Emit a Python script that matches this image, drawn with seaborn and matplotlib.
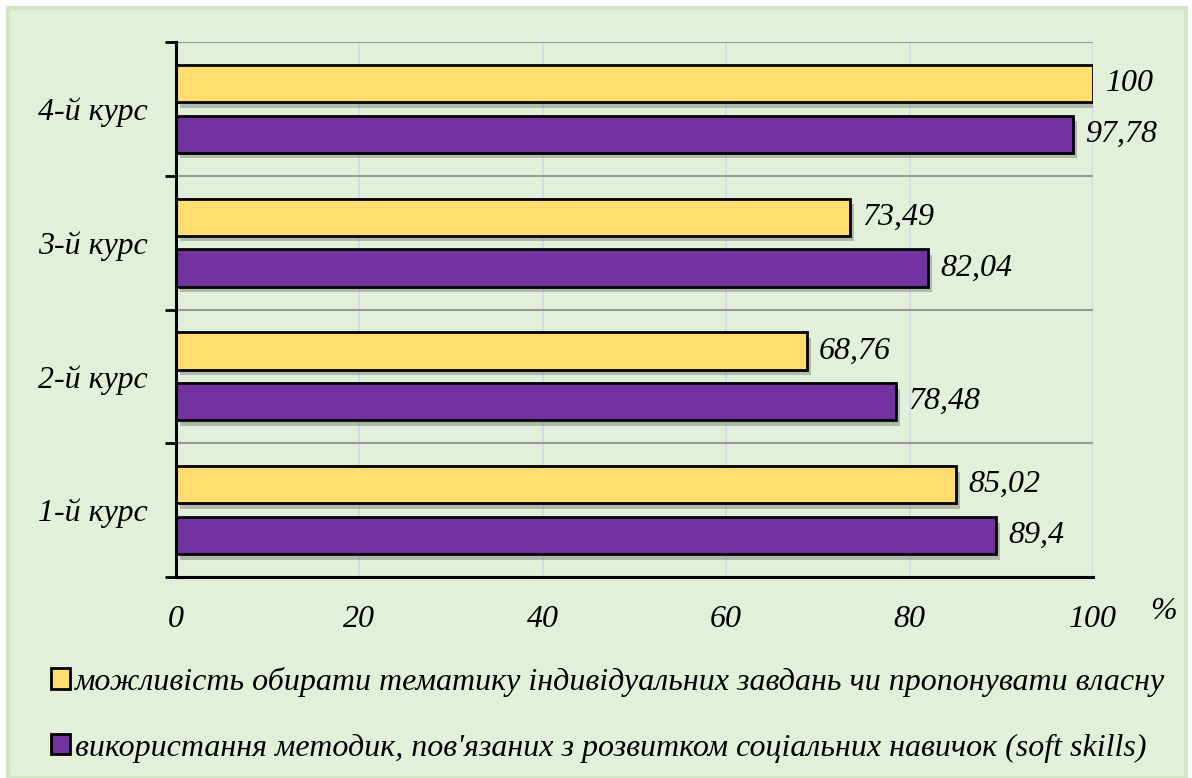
import matplotlib
matplotlib.use("Agg")
import matplotlib.pyplot as plt
import matplotlib.patheffects as pe
from matplotlib.patches import Rectangle, Patch
import seaborn as sns
import pandas as pd
import numpy as np

courses = ['4-й курс', '3-й курс', '2-й курс', '1-й курс']
series_names = [
    'можливість обирати тематику індивідуальних завдань чи пропонувати власну',
    "використання методик, пов'язаних з розвитком соціальних навичок (soft skills)",
]
choice_topic = [100, 73.49, 68.76, 85.02]
soft_skills = [97.78, 82.04, 78.48, 89.4]
x_ticks = [0, 20, 40, 60, 80, 100]

colors = ['#FFDD6F', '#7232A0']
bg = '#E2EFD9'
fs = 23

df = pd.DataFrame({
    'course': courses * 2,
    'series': [series_names[0]] * 4 + [series_names[1]] * 4,
    'value': choice_topic + soft_skills,
})

sns.set_theme(style="white")
plt.rcParams['font.family'] = ['Liberation Serif', 'DejaVu Serif']
plt.rcParams['font.style'] = 'italic'
plt.rcParams['text.color'] = 'black'
plt.rcParams['xtick.color'] = 'black'
plt.rcParams['ytick.color'] = 'black'

fig = plt.figure(figsize=(11.92, 7.78), dpi=100, facecolor='white')
fig.patches.append(Rectangle((8 / 1192, 0), 1178 / 1192, 770 / 778, transform=fig.transFigure,
                             facecolor=bg, edgecolor='#D2E5C6', linewidth=3, zorder=-10))
ax = fig.add_axes([176 / 1192, 1 - 577 / 778, (1093 - 176) / 1192, (577 - 42) / 778])
ax.set_facecolor(bg)

sns.barplot(data=df, y='course', x='value', hue='series', order=courses,
            hue_order=series_names, palette=colors, saturation=1, width=0.76, gap=0.27,
            edgecolor='black', linewidth=2, legend=False, ax=ax, zorder=3)

shadow = [pe.SimplePatchShadow(offset=(3, -4), shadow_rgbFace='#555555', alpha=0.35), pe.Normal()]
for p in ax.patches:
    p.set_path_effects(shadow)

for cont in ax.containers:
    labels = [f"{v:g}".replace('.', ',') for v in cont.datavalues]
    ax.bar_label(cont, labels=labels, padding=9, fontsize=fs, style='italic', color='black')

ax.set_xlim(0, 100)
ax.set_ylim(len(courses) - 0.5, -0.5)
ax.set_xticks(x_ticks)
ax.set_xticklabels([str(t) for t in x_ticks], fontsize=fs, style='italic')
ax.tick_params(axis='x', length=0, pad=20, labelcolor='black')
ax.tick_params(axis='y', which='major', length=0, pad=20, labelsize=fs, labelcolor='black')
ax.set_yticks(np.arange(len(courses) + 1) - 0.5, minor=True)
ax.tick_params(axis='y', which='minor', length=8, width=2, color='black', direction='out', left=True)
ax.set_xlabel('')
ax.set_ylabel('')

ax.grid(axis='x', color='#D6D6E6', linewidth=1.2, zorder=0)
ax.grid(axis='y', which='minor', color='#999999', linewidth=1.5, zorder=0)
ax.grid(axis='y', which='major', visible=False)
ax.set_axisbelow(True)

for s in ['top', 'right']:
    ax.spines[s].set_visible(False)
for s in ['left', 'bottom']:
    ax.spines[s].set_color('black')
    ax.spines[s].set_linewidth(2.2)
    ax.spines[s].set_zorder(5)

ax.text(1.077, -0.065, '%', transform=ax.transAxes, fontsize=fs, style='italic', ha='center', va='center')

handles = [Patch(facecolor=c, edgecolor='black', linewidth=2) for c in colors]
fig.legend(handles, series_names, loc='upper left', bbox_to_anchor=(38 / 1192, 1 - 654 / 778),
           frameon=False, handlelength=0.6, handleheight=0.6, handletextpad=0.15,
           labelspacing=1.15, borderaxespad=0, prop={'style': 'italic', 'size': fs})

fig.savefig('out.png', dpi=100, facecolor='white')
